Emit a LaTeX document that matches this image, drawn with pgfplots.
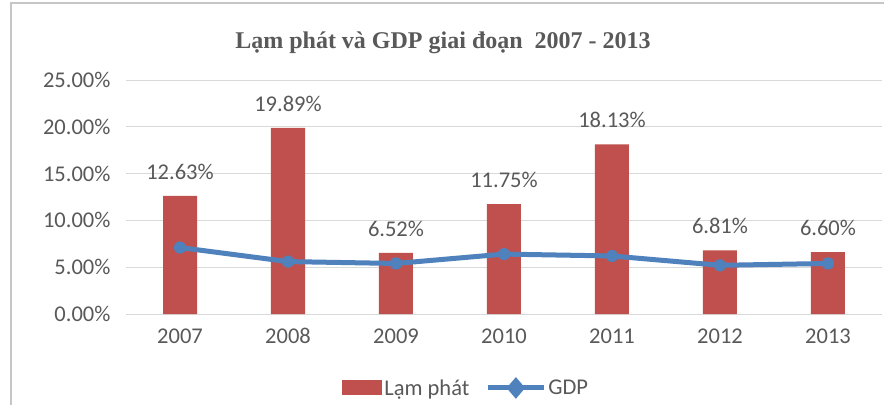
\documentclass[border=0pt]{standalone}
\usepackage{pgfplots}
\pgfplotsset{compat=1.18}
\usepackage{fontspec}
\setmainfont{Carlito}
\newfontfamily\titlefont{Liberation Serif}
\definecolor{barred}{HTML}{C0504D}
\definecolor{lineblue}{HTML}{4F81BD}
\definecolor{txt}{HTML}{595959}
\definecolor{grid}{HTML}{D9D9D9}
\begin{document}
\begin{tikzpicture}[x=1pt,y=1pt]
\useasboundingbox (0,0) rectangle (884,405);
\fill[white] (0,0) rectangle (884,405);
\draw[gray!45, line width=1.2pt] (11,0) -- (11,402) -- (884,402);
\node[font=\titlefont\bfseries\fontsize{24}{27}\selectfont, text=txt] at (443,362) {Lạm phát và GDP giai đoạn\ \ 2007 - 2013};
\begin{axis}[
  scale only axis,
  width=756pt, height=234pt,
  at={(126pt,91pt)}, anchor=south west,
  xmin=-0.5, xmax=6.5,
  ymin=0, ymax=25,
  axis line style={draw=none},
  ymajorgrids=true,
  xmajorgrids=false,
  major tick length=0pt,
  y grid style={grid, line width=1pt},
  xtick={0,...,6},
  xticklabels={2007,2008,2009,2010,2011,2012,2013},
  ytick={0,5,10,15,20,25},
  yticklabels={0.00\%,5.00\%,10.00\%,15.00\%,20.00\%,25.00\%},
  xtick style={draw=none},
  ytick style={draw=none},
  ticklabel style={font=\fontsize{22.5}{26}\selectfont, text=txt},
  yticklabel style={xshift=-12pt},
  xticklabel style={yshift=-11pt},
  legend columns=2,
  legend style={draw=none, fill=none, at={(0.45,-0.316)}, anchor=center,
    font=\fontsize{22.5}{26}\selectfont, text=txt,
    /tikz/every even column/.append style={column sep=14pt}},
  clip=false,
]
\addplot[ybar, bar width=34pt, fill=barred, draw=none,
  point meta=explicit symbolic,
  nodes near coords,
  nodes near coords style={font=\fontsize{22.5}{26}\selectfont, text=txt, yshift=13pt},
  legend image code/.code={\fill[barred] (0pt,-7pt) rectangle (40pt,8pt);}]
  coordinates {
  (0,12.63) [12.63\%]
  (1,19.89) [19.89\%]
  (2,6.52) [6.52\%]
  (3,11.75) [11.75\%]
  (4,18.13) [18.13\%]
  (5,6.81) [6.81\%]
  (6,6.60) [6.60\%]
  };
\addlegendentry{Lạm phát}
\addplot[lineblue, line width=5pt, mark=*, mark size=6pt, mark options={solid, line width=0.1pt},
  legend image code/.code={\draw[lineblue, line width=5pt] (0pt,0pt) -- (56pt,0pt);
    \fill[lineblue] (28pt,7pt) -- (34pt,0pt) -- (28pt,-7pt) -- (22pt,0pt) -- cycle;}]
  coordinates {(0,7.1) (1,5.6) (2,5.4) (3,6.4) (4,6.2) (5,5.2) (6,5.4)};
\addlegendentry{GDP}
\end{axis}
\end{tikzpicture}
\end{document}
